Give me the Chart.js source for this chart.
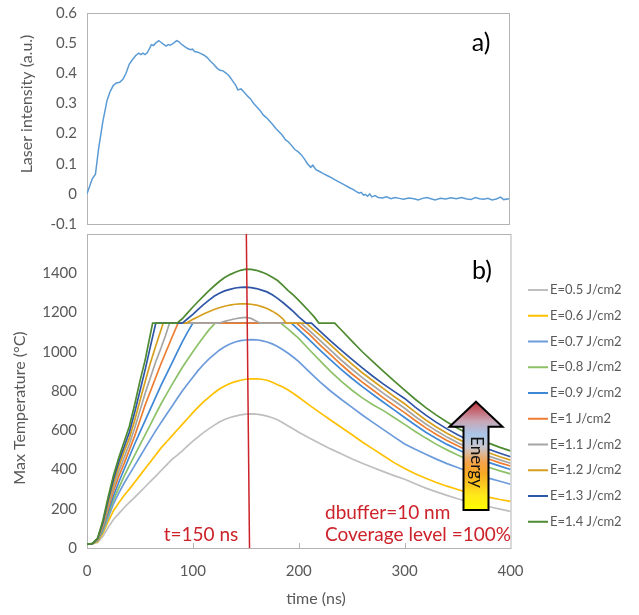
<!DOCTYPE html>
<html>
<head>
<meta charset="utf-8">
<script src="https://cdn.jsdelivr.net/npm/chart.js@4.4.1/dist/chart.umd.min.js"></script>
<style>
  html, body { margin: 0; padding: 0; background: #fff; }
  #wrap { position: relative; width: 639px; height: 615px; background: #fff; }
  canvas { position: absolute; left: 0; }
</style>
</head>
<body>
<div id="wrap">
  <canvas id="tempChart" width="639" height="385" style="top:230px"></canvas>
  <canvas id="laserChart" width="639" height="236" style="top:0"></canvas>
</div>
<script>
// a) laser pulse
const laserTime = [0,2,5,8,11,15,19,22,25,28,31,34,37,40,43,46,49,51,53,55,57,59,61,63,65,68,70,73,75,77,79,82,85,87,89,92,95,98,100,102,105,108,111,114,117,120,123,126,129,132,135,138,141,143,146,149,152,155,158,161,164,167,170,173,176,179,182,185,188,191,194,197,200,203,206,209,212,214,217,220,224,228,232,236,240,244,248,252,255,258,260,262,264,266,268,270,273,276,280,284,288,292,296,300,305,310,314,318,322,326,330,335,340,345,350,355,360,364,368,372,376,380,384,388,392,395,400];
const laserIntensity = [0,0.02,0.05,0.065,0.15,0.24,0.31,0.34,0.36,0.368,0.37,0.38,0.40,0.43,0.445,0.458,0.467,0.462,0.467,0.462,0.468,0.48,0.495,0.492,0.50,0.508,0.503,0.495,0.49,0.495,0.493,0.50,0.508,0.505,0.498,0.49,0.483,0.478,0.48,0.472,0.47,0.465,0.46,0.452,0.44,0.43,0.418,0.41,0.408,0.40,0.39,0.375,0.36,0.345,0.348,0.337,0.325,0.315,0.30,0.288,0.277,0.262,0.253,0.242,0.23,0.217,0.206,0.195,0.18,0.172,0.16,0.147,0.14,0.13,0.116,0.10,0.088,0.095,0.08,0.075,0.067,0.06,0.053,0.045,0.037,0.03,0.022,0.015,0.008,0.002,0.005,-0.004,-0.002,-0.008,0,-0.01,-0.006,-0.012,-0.014,-0.01,-0.016,-0.012,-0.015,-0.018,-0.014,-0.016,-0.02,-0.015,-0.012,-0.016,-0.02,-0.015,-0.017,-0.013,-0.016,-0.012,-0.017,-0.019,-0.012,-0.016,-0.018,-0.015,-0.02,-0.017,-0.011,-0.019,-0.016];

// b) max temperature, [time ns, temperature °C]
const e05 = [[0,20],[5,21],[10,28],[15,60],[20,105],[25,145],[30,175],[35,205],[40,232],[45,258],[50,285],[55,312],[60,340],[65,366],[70,395],[75,422],[80,450],[85,472],[90,495],[95,520],[100,545],[105,566],[110,588],[115,607],[120,625],[125,642],[130,655],[135,665],[140,672],[145,678],[150,682],[155,683],[160,682],[165,678],[170,672],[175,664],[180,654],[185,638],[190,622],[195,606],[200,590],[210,560],[220,532],[230,505],[240,480],[250,455],[260,432],[270,410],[280,389],[290,369],[300,350],[310,327],[320,305],[330,286],[340,268],[350,251],[360,236],[370,222],[380,210],[390,198],[400,187]];
const e06 = [[0,20],[5,22],[10,32],[15,75],[20,135],[25,190],[30,230],[35,268],[40,300],[45,335],[50,370],[55,405],[60,440],[65,475],[70,510],[75,540],[80,570],[85,600],[90,630],[95,660],[100,690],[105,718],[110,745],[115,768],[120,790],[125,810],[130,825],[135,838],[140,848],[145,855],[150,860],[155,862],[160,862],[165,860],[170,855],[175,845],[180,832],[185,820],[190,805],[195,787],[200,768],[210,728],[220,690],[230,652],[240,615],[250,578],[260,540],[270,505],[280,470],[290,435],[300,405],[310,378],[320,355],[330,334],[340,315],[350,298],[360,282],[370,270],[380,258],[390,247],[400,238]];
const e07 = [[0,20],[5,22],[10,36],[15,85],[20,155],[25,225],[30,280],[35,330],[40,375],[45,420],[50,465],[55,510],[60,555],[65,598],[70,640],[75,680],[80,720],[85,760],[90,800],[95,836],[100,870],[105,905],[110,935],[115,962],[120,985],[125,1008],[130,1025],[135,1040],[140,1050],[145,1057],[150,1060],[155,1062],[160,1061],[165,1057],[170,1050],[175,1040],[180,1027],[185,1010],[190,992],[195,972],[200,950],[210,897],[220,847],[230,800],[240,758],[250,718],[260,678],[270,640],[280,603],[290,566],[300,530],[310,503],[320,478],[330,453],[340,430],[350,410],[360,390],[370,372],[380,355],[390,340],[400,325]];
const e08 = [[0,20],[5,22],[10,38],[15,92],[20,170],[25,245],[30,305],[35,365],[40,420],[45,472],[50,525],[55,578],[60,630],[65,683],[70,735],[75,783],[80,830],[85,875],[90,920],[95,960],[100,1000],[105,1038],[110,1075],[115,1110],[121,1146],[183,1146],[190,1115],[200,1068],[210,1010],[220,955],[230,900],[240,850],[250,805],[260,765],[270,730],[280,700],[290,665],[300,630],[310,594],[320,560],[330,528],[340,500],[350,474],[360,450],[370,429],[380,410],[390,393],[400,378]];
const e09 = [[0,20],[5,22],[10,40],[15,100],[20,185],[25,265],[30,335],[35,400],[40,465],[45,530],[50,590],[55,650],[60,710],[65,770],[70,830],[75,885],[80,940],[85,995],[90,1050],[95,1100],[100,1146],[193,1146],[200,1112],[210,1060],[220,1008],[230,958],[240,910],[250,865],[260,822],[270,782],[280,743],[290,704],[300,665],[310,627],[320,590],[330,558],[340,528],[350,502],[360,478],[370,456],[380,435],[390,417],[400,400]];
const e10 = [[0,20],[5,22],[10,42],[15,108],[20,200],[25,290],[30,365],[35,430],[40,500],[45,570],[50,650],[55,730],[60,800],[65,870],[70,940],[75,1005],[80,1070],[86,1146],[198,1146],[205,1112],[210,1088],[220,1035],[230,985],[240,935],[250,888],[260,845],[270,805],[280,765],[290,727],[300,690],[310,650],[320,612],[330,578],[340,548],[350,521],[360,496],[370,473],[380,452],[390,434],[400,418]];
const e11 = [[0,20],[5,22],[10,44],[15,115],[20,215],[25,310],[30,390],[35,460],[40,530],[45,610],[50,700],[55,790],[60,870],[65,950],[70,1020],[74,1080],[78,1146],[125,1146],[130,1155],[135,1162],[140,1168],[145,1173],[150,1175],[155,1170],[160,1156],[163,1146],[202,1146],[210,1108],[220,1058],[230,1008],[240,958],[250,912],[260,868],[270,828],[280,788],[290,750],[300,712],[310,670],[320,632],[330,597],[340,565],[350,537],[360,512],[370,488],[380,467],[390,449],[400,432]];
const e12 = [[0,20],[5,22],[10,46],[15,122],[20,230],[25,330],[30,415],[35,490],[40,560],[45,650],[50,750],[55,850],[60,945],[65,1030],[68,1080],[72,1146],[94,1146],[100,1165],[105,1178],[110,1192],[115,1204],[120,1215],[125,1224],[130,1232],[135,1238],[140,1242],[145,1244],[150,1244],[155,1242],[160,1238],[165,1230],[170,1220],[175,1207],[180,1190],[185,1168],[188,1146],[207,1146],[215,1108],[220,1085],[230,1035],[240,985],[250,938],[260,893],[270,852],[280,812],[290,772],[300,735],[310,692],[320,652],[330,617],[340,585],[350,556],[360,530],[370,506],[380,484],[390,465],[400,448]];
const e13 = [[0,20],[5,22],[10,48],[15,130],[20,245],[25,350],[30,440],[35,515],[40,590],[45,690],[50,800],[55,910],[60,1030],[65,1146],[90,1146],[95,1168],[100,1190],[105,1216],[110,1240],[115,1262],[120,1283],[125,1298],[130,1310],[135,1318],[140,1325],[145,1328],[150,1329],[155,1327],[160,1322],[165,1314],[170,1305],[175,1290],[180,1272],[185,1251],[190,1228],[195,1204],[200,1178],[207,1146],[212,1146],[220,1105],[230,1055],[240,1008],[250,962],[260,918],[270,875],[280,835],[290,798],[300,762],[310,718],[320,677],[330,640],[340,607],[350,577],[360,550],[370,525],[380,502],[390,483],[400,465]];
const e14 = [[0,20],[5,22],[10,50],[15,140],[20,260],[25,370],[30,460],[35,540],[40,620],[45,730],[50,850],[55,960],[62,1146],[85,1146],[90,1168],[95,1198],[100,1228],[105,1256],[110,1283],[115,1310],[120,1335],[125,1358],[130,1378],[135,1393],[140,1405],[145,1415],[150,1421],[155,1420],[160,1415],[165,1406],[170,1395],[175,1380],[180,1363],[185,1338],[190,1312],[195,1288],[200,1262],[205,1234],[210,1205],[215,1175],[219,1146],[234,1146],[240,1112],[250,1055],[260,1000],[270,950],[280,900],[290,852],[300,805],[310,758],[320,715],[330,677],[340,642],[350,610],[360,582],[370,556],[380,533],[390,513],[400,495]];

const seriesNames = ['E=0.5 J/cm2','E=0.6 J/cm2','E=0.7 J/cm2','E=0.8 J/cm2','E=0.9 J/cm2','E=1 J/cm2','E=1.1 J/cm2','E=1.2 J/cm2','E=1.3 J/cm2','E=1.4 J/cm2'];
const seriesData = [e05, e06, e07, e08, e09, e10, e11, e12, e13, e14];
const seriesColors = ['#BFBFBF','#FFC000','#6C9BDC','#8CC168','#3F88D6','#ED7D31','#A5A5A5','#D6A01E','#2F56A6','#4E8A30'];

// t=150 ns marker line
const markerLine = [[150.5, 1600], [153.5, 0]];

Chart.defaults.font.family = 'Lato, "Open Sans", sans-serif';
Chart.defaults.color = '#595959';

const RED = '#CC2229';
const toXY = (arr) => arr.map(p => ({ x: p[0], y: p[1] }));

// y axis: fixed width, no extra label padding above/below
function fixY(width) {
  return function (scale) {
    scale.width = width;
    scale.paddingTop = 0;
    scale.paddingBottom = 0;
  };
}

// frame round plot area, optional inner ticks on x
function framePlugin(xTicks) {
  return {
    id: 'frame',
    beforeDatasetsDraw(chart) {
      const { ctx, chartArea: a } = chart;
      ctx.save();
      ctx.strokeStyle = '#B3B3B3';
      ctx.lineWidth = 1;
      ctx.strokeRect(a.left + 0.5, a.top + 0.5, a.right - a.left, a.bottom - a.top);
      if (xTicks) {
        const xs = chart.scales.x;
        xTicks.forEach(v => {
          const px = Math.round(xs.getPixelForValue(v)) + 0.5;
          ctx.beginPath();
          ctx.moveTo(px, a.bottom);
          ctx.lineTo(px, a.bottom - 5);
          ctx.stroke();
        });
      }
      ctx.restore();
    }
  };
}

function drawText(ctx, text, x, y, opts) {
  ctx.save();
  ctx.font = opts.font;
  ctx.fillStyle = opts.color || '#000';
  ctx.textAlign = opts.align || 'center';
  ctx.textBaseline = 'middle';
  ctx.translate(x, y);
  if (opts.rotate) ctx.rotate(opts.rotate);
  ctx.fillText(text, 0, 0);
  ctx.restore();
}

// ---- chart a)
new Chart(document.getElementById('laserChart'), {
  type: 'line',
  data: {
    datasets: [{
      data: laserTime.map((t, i) => ({ x: t, y: laserIntensity[i] })),
      borderColor: '#5B9BD5',
      borderWidth: 1.5,
      pointRadius: 0,
      tension: 0,
    }],
  },
  options: {
    responsive: false,
    animation: false,
    devicePixelRatio: 1,
    layout: { padding: { left: 0, right: 130, top: 13, bottom: 12 } },
    plugins: { legend: { display: false }, tooltip: { enabled: false } },
    scales: {
      x: { type: 'linear', min: 0, max: 400, display: false },
      y: {
        min: -0.1,
        max: 0.6,
        afterFit: fixY(87),
        grid: { display: false, drawTicks: false },
        border: { display: false },
        ticks: {
          stepSize: 0.1,
          padding: 10,
          color: '#595959',
          font: { size: 15 },
          callback: (v) => String(Math.round(v * 10) / 10),
        },
      },
    },
  },
  plugins: [
    framePlugin(null),
    {
      id: 'labelsA',
      afterDraw(chart) {
        const ctx = chart.ctx;
        drawText(ctx, 'Laser intensity (a.u.)', 27, 104, { font: '16px Lato', color: '#595959', rotate: -Math.PI / 2 });
        drawText(ctx, 'a)', 481, 43, { font: '25px Lato', color: '#000' });
      },
    },
  ],
});

// ---- chart b)
const tempDatasets = [{
  data: toXY(markerLine),
  borderColor: RED,
  borderWidth: 1.5,
  pointRadius: 0,
}];
for (let i = seriesData.length - 1; i >= 0; i--) {
  tempDatasets.push({
    label: seriesNames[i],
    data: toXY(seriesData[i]),
    borderColor: seriesColors[i],
    borderWidth: 1.7,
    pointRadius: 0,
    tension: 0,
  });
}

new Chart(document.getElementById('tempChart'), {
  type: 'line',
  data: { datasets: tempDatasets },
  options: {
    responsive: false,
    animation: false,
    devicePixelRatio: 1,
    layout: { padding: { left: 0, right: 128.5, top: 4, bottom: 0 } },
    plugins: { legend: { display: false }, tooltip: { enabled: false } },
    scales: {
      x: {
        type: 'linear',
        min: 0,
        max: 400,
        afterFit(scale) { scale.height = 67; scale.paddingLeft = 0; scale.paddingRight = 0; },
        grid: { display: false, drawTicks: false },
        border: { display: false },
        ticks: { stepSize: 100, padding: 14, color: '#595959', font: { size: 15 } },
      },
      y: {
        min: 0,
        max: 1600,
        afterFit: fixY(87),
        grid: { display: false, drawTicks: false },
        border: { display: false },
        ticks: {
          stepSize: 200,
          padding: 10,
          color: '#595959',
          font: { size: 15 },
          callback: (v) => (v >= 1600 ? '' : String(v)),
        },
      },
    },
  },
  plugins: [
    framePlugin([100, 200, 300]),
    {
      id: 'decorB',
      afterDatasetsDraw(chart) {
        const ctx = chart.ctx;
        // energy arrow
        const tipY = 171.7, headY = 196.7, botY = 280;
        const cx = 476, headHalf = 26.5, shaftHalf = 12.5;
        const g = ctx.createLinearGradient(0, tipY, 0, botY);
        g.addColorStop(0, '#C0303A');
        g.addColorStop(0.18, '#C9A6B6');
        g.addColorStop(0.3, '#A9C6E8');
        g.addColorStop(0.42, '#C9C6CF');
        g.addColorStop(0.56, '#F4A24A');
        g.addColorStop(0.66, '#F7A823');
        g.addColorStop(0.86, '#FFE71A');
        g.addColorStop(1, '#FFFF00');
        ctx.save();
        ctx.beginPath();
        ctx.moveTo(cx, tipY);
        ctx.lineTo(cx + headHalf, headY);
        ctx.lineTo(cx + shaftHalf, headY);
        ctx.lineTo(cx + shaftHalf, botY);
        ctx.lineTo(cx - shaftHalf, botY);
        ctx.lineTo(cx - shaftHalf, headY);
        ctx.lineTo(cx - headHalf, headY);
        ctx.closePath();
        ctx.fillStyle = g;
        ctx.fill();
        ctx.lineWidth = 2;
        ctx.strokeStyle = '#000';
        ctx.lineJoin = 'miter';
        ctx.stroke();
        ctx.restore();
        drawText(ctx, 'Energy', cx, 232, { font: '17px Lato', color: '#111', rotate: Math.PI / 2 });
      },
      afterDraw(chart) {
        const ctx = chart.ctx;
        drawText(ctx, 't=150 ns', 201, 305, { font: '19px Lato', color: RED });
        drawText(ctx, 'dbuffer=10 nm', 325, 283, { font: '19px Lato', color: RED, align: 'left' });
        drawText(ctx, 'Coverage level =100%', 325, 305, { font: '19px Lato', color: RED, align: 'left' });
        drawText(ctx, 'b)', 482, 41, { font: '25px Lato', color: '#000' });
        drawText(ctx, 'Max Temperature (°C)', 20, 178, { font: '16px Lato', color: '#595959', rotate: -Math.PI / 2 });
        drawText(ctx, 'time (ns)', 316, 369, { font: '16px Lato', color: '#595959' });
        // legend
        seriesNames.forEach((name, i) => {
          const y = 60 + i * 25.75;
          ctx.save();
          ctx.strokeStyle = seriesColors[i];
          ctx.lineWidth = 2;
          ctx.beginPath();
          ctx.moveTo(528, y);
          ctx.lineTo(548, y);
          ctx.stroke();
          ctx.restore();
          drawText(ctx, name, 550, y, { font: '13px Lato', color: '#595959', align: 'left' });
        });
      },
    },
  ],
});
</script>
</body>
</html>
